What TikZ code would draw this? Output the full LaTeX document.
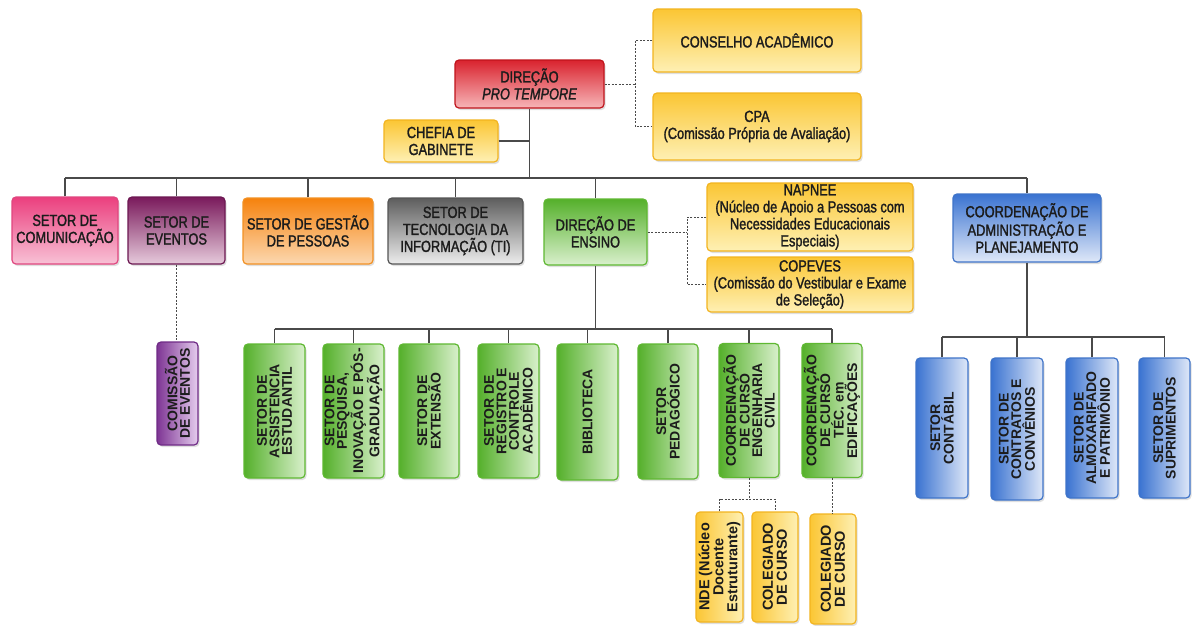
\documentclass[tikz,border=0pt]{standalone}
\usepackage{fontspec}
\setmainfont{Liberation Sans}
\newfontfamily\hf{Liberation Sans}[FakeStretch=0.8,FakeBold=1.6]
\newfontfamily\vf{Liberation Sans Bold}
\usetikzlibrary{shadows}
\definecolor{txt}{HTML}{1C1C1C}
\definecolor{lnc}{HTML}{4A4A4A}
\definecolor{rT}{HTML}{D9232E}\definecolor{rB}{HTML}{F7B5B8}\definecolor{rD}{HTML}{C0141C}
\definecolor{yT}{HTML}{FBC634}\definecolor{yB}{HTML}{FEF0B4}\definecolor{yD}{HTML}{F2B420}
\definecolor{pT}{HTML}{EB3F7E}\definecolor{pB}{HTML}{F8C2D6}\definecolor{pD}{HTML}{E0467F}
\definecolor{mT}{HTML}{7A1A5C}\definecolor{mB}{HTML}{E6CADB}\definecolor{mD}{HTML}{6D1852}
\definecolor{vT}{HTML}{7E3594}\definecolor{vB}{HTML}{E5CDEE}\definecolor{vD}{HTML}{6F2B86}
\definecolor{oT}{HTML}{F6820D}\definecolor{oB}{HTML}{FCD8B0}\definecolor{oD}{HTML}{F29124}
\definecolor{gT}{HTML}{5E5E5E}\definecolor{gB}{HTML}{EDEDED}\definecolor{gD}{HTML}{555555}
\definecolor{eT}{HTML}{55B02B}\definecolor{eB}{HTML}{D9F0CC}\definecolor{eD}{HTML}{5FB832}
\definecolor{bT}{HTML}{3A73D1}\definecolor{bB}{HTML}{DFE8F8}\definecolor{bD}{HTML}{3F74C9}
\tikzset{
  box/.style={rounded corners=4pt, line width=1.2pt, align=center, inner sep=0pt,
    text=txt, drop shadow={shadow xshift=1.5pt, shadow yshift=-2pt, opacity=0.25}},
  hbox/.style={box, font=\hf\fontsize{16}{17}\selectfont},
  vbox/.style={box, rotate=90, font=\vf\fontsize{14}{12.5}\selectfont},
  ybbox/.style={box, rotate=90, font=\vf\fontsize{14.5}{14}\selectfont},
  redbox/.style={draw=rD, top color=rT, bottom color=rB},
  yelbox/.style={draw=yD, top color=yT, bottom color=yB},
  yelV/.style={draw=yD, left color=yT, right color=yB},
  pinkbox/.style={draw=pD, top color=pT, bottom color=pB},
  plumbox/.style={draw=mD, top color=mT, bottom color=mB},
  violV/.style={draw=vD, left color=vT, right color=vB},
  orabox/.style={draw=oD, top color=oT, bottom color=oB},
  graybox/.style={draw=gD, top color=gT, bottom color=gB},
  grnbox/.style={draw=eD, top color=eT, bottom color=eB},
  grnV/.style={draw=eD, left color=eT, right color=eB},
  blubox/.style={draw=bD, top color=bT, bottom color=bB},
  bluV/.style={draw=bD, left color=bT, right color=bB},
  conn/.style={draw=lnc, line width=1.3pt},
  dconn/.style={draw=lnc, line width=1pt, dash pattern=on 2pt off 1.5pt},
}
\begin{document}
\begin{tikzpicture}[x=1pt,y=-1pt]
\useasboundingbox[fill=white] (0,0) rectangle (1192,625);
% top level
\node[hbox,redbox,minimum width=149,minimum height=48] (dir) at (529.5,84) {DIREÇÃO\\\itshape PRO TEMPORE};
\node[hbox,yelbox,minimum width=208,minimum height=63] (cons) at (757,40.5) {CONSELHO ACADÊMICO};
\node[hbox,yelbox,minimum width=208,minimum height=67] (cpa) at (757,126.5) {CPA\\(Comissão Própria de Avaliação)};
\node[hbox,yelbox,minimum width=114,minimum height=42] (chefia) at (441,141) {CHEFIA DE\\GABINETE};
% second level
\node[hbox,pinkbox,minimum width=106,minimum height=67] (comun) at (65,230.5) {SETOR DE\\COMUNICAÇÃO};
\node[hbox,plumbox,minimum width=97,minimum height=67] (event) at (176.5,230.5) {SETOR DE\\EVENTOS};
\node[hbox,orabox,minimum width=130,minimum height=66] (gestao) at (308,231) {SETOR DE GESTÃO\\DE PESSOAS};
\node[hbox,graybox,minimum width=135,minimum height=66] (ti) at (455.5,231) {SETOR DE\\TECNOLOGIA DA\\INFORMAÇÃO (TI)};
\node[hbox,grnbox,minimum width=103,minimum height=66] (ensino) at (595.5,232) {DIREÇÃO DE\\ENSINO};
\node[hbox,yelbox,minimum width=206,minimum height=68] (napnee) at (810,217) {NAPNEE\\(Núcleo de Apoio a Pessoas com\\Necessidades Educacionais\\Especiais)};
\node[hbox,yelbox,minimum width=206,minimum height=55] (copeves) at (810,284.5) {COPEVES\\(Comissão do Vestibular e Exame\\de Seleção)};
\node[hbox,blubox,minimum width=148,minimum height=68] (coordadm) at (1027,228) {COORDENAÇÃO DE\\ADMINISTRAÇÃO E\\PLANEJAMENTO};
% comissao
\node[vbox,violV,minimum width=103,minimum height=41] (comissao) at (177.5,393.5) {COMISSÃO\\DE EVENTOS};
% ensino children
\node[vbox,grnV,minimum width=134,minimum height=61] (assist) at (274.5,411) {SETOR DE\\ASSISTENCIA\\ESTUDANTIL};
\node[vbox,grnV,minimum width=134,minimum height=61] (pesq) at (353.5,411) {SETOR DE\\PESQUISA,\\INOVAÇÃO E PÓS-\\GRADUAÇÃO};
\node[vbox,grnV,minimum width=134,minimum height=60] (ext) at (429,411) {SETOR DE\\EXTENSÃO};
\node[vbox,grnV,minimum width=134,minimum height=61] (reg) at (508.5,411) {SETOR DE\\REGISTRO E\\CONTROLE\\ACADÊMICO};
\node[vbox,grnV,minimum width=136,minimum height=61] (bib) at (587.5,412) {BIBLIOTECA};
\node[vbox,grnV,minimum width=135,minimum height=60] (ped) at (668,411.5) {SETOR\\PEDAGÓGICO};
\node[vbox,grnV,minimum width=134,minimum height=60] (civ) at (749,410.5) {COORDENAÇÃO\\DE CURSO\\ENGENHARIA\\CIVIL};
\node[vbox,grnV,minimum width=134,minimum height=60] (edif) at (832,410.5) {COORDENAÇÃO\\DE CURSO\\TÉC. em\\EDIFICAÇÕES};
% bottom yellow
\node[ybbox,yelV,minimum width=110,minimum height=47] (nde) at (719.5,567) {NDE (Núcleo\\Docente\\Estruturante)};
\node[ybbox,yelV,minimum width=110,minimum height=46] (col1) at (775,567) {COLEGIADO\\DE CURSO};
\node[ybbox,yelV,minimum width=110,minimum height=46] (col2) at (833,569) {COLEGIADO\\DE CURSO};
% admin children
\node[vbox,bluV,minimum width=140,minimum height=52] (contab) at (942,428) {SETOR\\CONTÁBIL};
\node[vbox,bluV,minimum width=142,minimum height=52] (contr) at (1017,429) {SETOR DE\\CONTRATOS E\\CONVÊNIOS};
\node[vbox,bluV,minimum width=140,minimum height=52] (almox) at (1092,428) {SETOR DE\\ALMOXARIFADO\\E PATRIMÔNIO};
\node[vbox,bluV,minimum width=140,minimum height=51] (supr) at (1164.5,428) {SETOR DE\\SUPRIMENTOS};
% coordinates for buses
\coordinate (busA) at (0,178);
\coordinate (busB) at (0,329);
\coordinate (busC) at (0,337);
\coordinate (busD) at (0,499);
\coordinate (dj) at (635,0);
\coordinate (ej) at (687,0);
% solid connectors
\draw[conn] (dir.south) -- (dir.south |- busA);
\draw[conn] (chefia.east) -- (chefia.east -| dir.south);
\draw[conn] (comun.north |- busA) -- (coordadm.north |- busA);
\foreach \n in {comun,event,gestao,ti,ensino,coordadm}
  \draw[conn] (\n.north) -- (\n.north |- busA);
\draw[conn] (ensino.south) -- (ensino.south |- busB);
\draw[conn] (assist.east |- busB) -- (edif.east |- busB);
\foreach \n in {assist,pesq,ext,reg,bib,ped,civ,edif}
  \draw[conn] (\n.east) -- (\n.east |- busB);
\draw[conn] (coordadm.south) -- (coordadm.south |- busC);
\draw[conn] (contab.east |- busC) -- (supr.east |- busC);
\foreach \n in {contab,contr,almox,supr}
  \draw[conn] (\n.east) -- (\n.east |- busC);
% dashed connectors
\draw[dconn] (dir.east) -- (dir.east -| dj);
\draw[dconn] (cons.west) -- (cons.west -| dj) -- (cpa.west -| dj) -- (cpa.west);
\draw[dconn] (ensino.east) -- (ensino.east -| ej);
\draw[dconn] (napnee.west) -- (napnee.west -| ej) -- (copeves.west -| ej) -- (copeves.west);
\draw[dconn] (event.south) -- (event.south |- comissao.east);
\draw[dconn] (civ.west) -- (civ.west |- busD);
\draw[dconn] (nde.east) -- (nde.east |- busD) -- (col1.east |- busD) -- (col1.east);
\draw[dconn] (edif.west) -- (edif.west |- col2.east);
\end{tikzpicture}
\end{document}
